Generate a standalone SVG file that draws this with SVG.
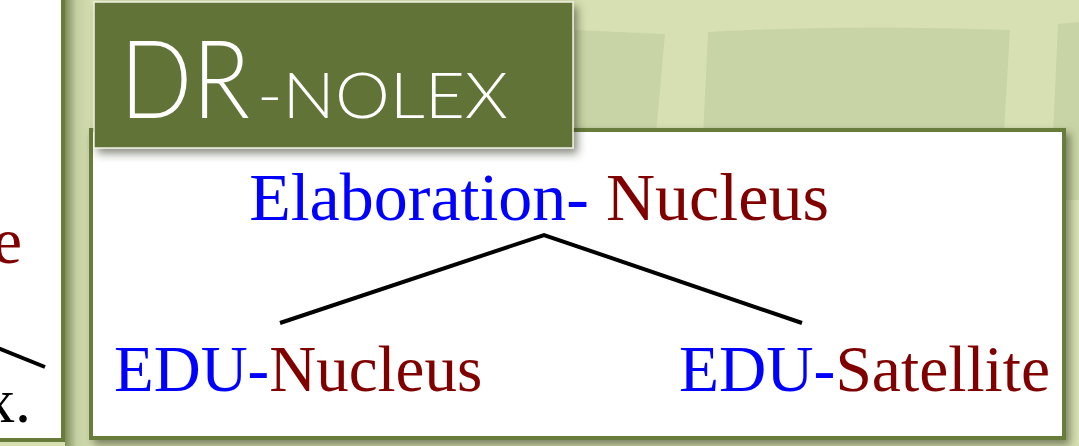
<svg xmlns="http://www.w3.org/2000/svg" width="1079" height="446" viewBox="0 0 1079 446">
<defs>
<style>
.serif{font-family:"Liberation Serif","Times New Roman",serif;}
.blue{fill:#0000ff;}
.red{fill:#800000;}
.blk{fill:#000;}
.title{font-family:Lato,"Open Sans","DejaVu Sans",sans-serif;font-weight:300;fill:#ffffff;}
.edge{stroke:#000;stroke-width:4;fill:none;stroke-linecap:butt;}
.frame{fill:#ffffff;stroke:#687b3a;stroke-width:4;}
.patch{fill:#c9d4a6;}
</style>
<filter id="sh" x="-10%" y="-10%" width="125%" height="130%">
<feDropShadow dx="4" dy="5" stdDeviation="4" flood-color="#303820" flood-opacity="0.55"/>
</filter>
<linearGradient id="gapShade" x1="0" y1="0" x2="1" y2="0">
<stop offset="0" stop-color="#7e8c5a"/>
<stop offset="0.45" stop-color="#c5d0a2"/>
<stop offset="1" stop-color="#d3ddb0"/>
</linearGradient>
</defs>
<!-- background -->
<rect x="0" y="0" width="1079" height="446" fill="#d7e0b3"/>
<path class="patch" d="M575 30 L665 34 L650 200 L575 200 Z"/>
<path class="patch" d="M708 32 Q860 24 1010 30 L1000 200 L700 200 Z"/>
<path class="patch" d="M1058 24 L1079 22 L1079 200 L1050 200 Z"/>
<rect x="65" y="0" width="26" height="446" fill="url(#gapShade)"/>
<!-- left neighbouring panel -->
<g id="left-panel">
<rect x="-10" y="-10" width="73" height="450" fill="#ffffff" stroke="#687b3a" stroke-width="4"/>
<text class="serif red" x="22" y="263" font-size="66" text-anchor="end">e</text>
<line class="edge" x1="-2" y1="348" x2="45" y2="367"/>
<text class="serif blk" x="31" y="422" font-size="64" text-anchor="end">x.</text>
</g>
<!-- content box -->
<g id="content-box">
<rect class="frame" x="91" y="130" width="973" height="308" filter="url(#sh)"/>
</g>
<!-- title -->
<g id="title">
<rect x="94" y="2" width="479" height="146" fill="#627337" stroke="#eef0e2" stroke-width="1.5" filter="url(#sh)"/>
<text class="title" x="120" y="118" font-size="109" textLength="130" lengthAdjust="spacingAndGlyphs">DR</text>
<text class="title" x="257" y="118" font-size="64" textLength="251" lengthAdjust="spacingAndGlyphs">-NOLEX</text>
</g>
<!-- connectors -->
<g id="connectors">
<polyline class="edge" points="280,323 544,235 802,323"/>
</g>
<g id="node-root">
<text class="serif" x="539" y="220" font-size="68" text-anchor="middle"><tspan class="blue">Elaboration- </tspan><tspan class="red">Nucleus</tspan></text>
</g>
<g id="node-nucleus">
<text class="serif" x="114" y="391" font-size="65"><tspan class="blue">EDU-</tspan><tspan class="red">Nucleus</tspan></text>
</g>
<g id="node-satellite">
<text class="serif" x="679" y="391" font-size="65.5"><tspan class="blue">EDU-</tspan><tspan class="red">Satellite</tspan></text>
</g>
</svg>
